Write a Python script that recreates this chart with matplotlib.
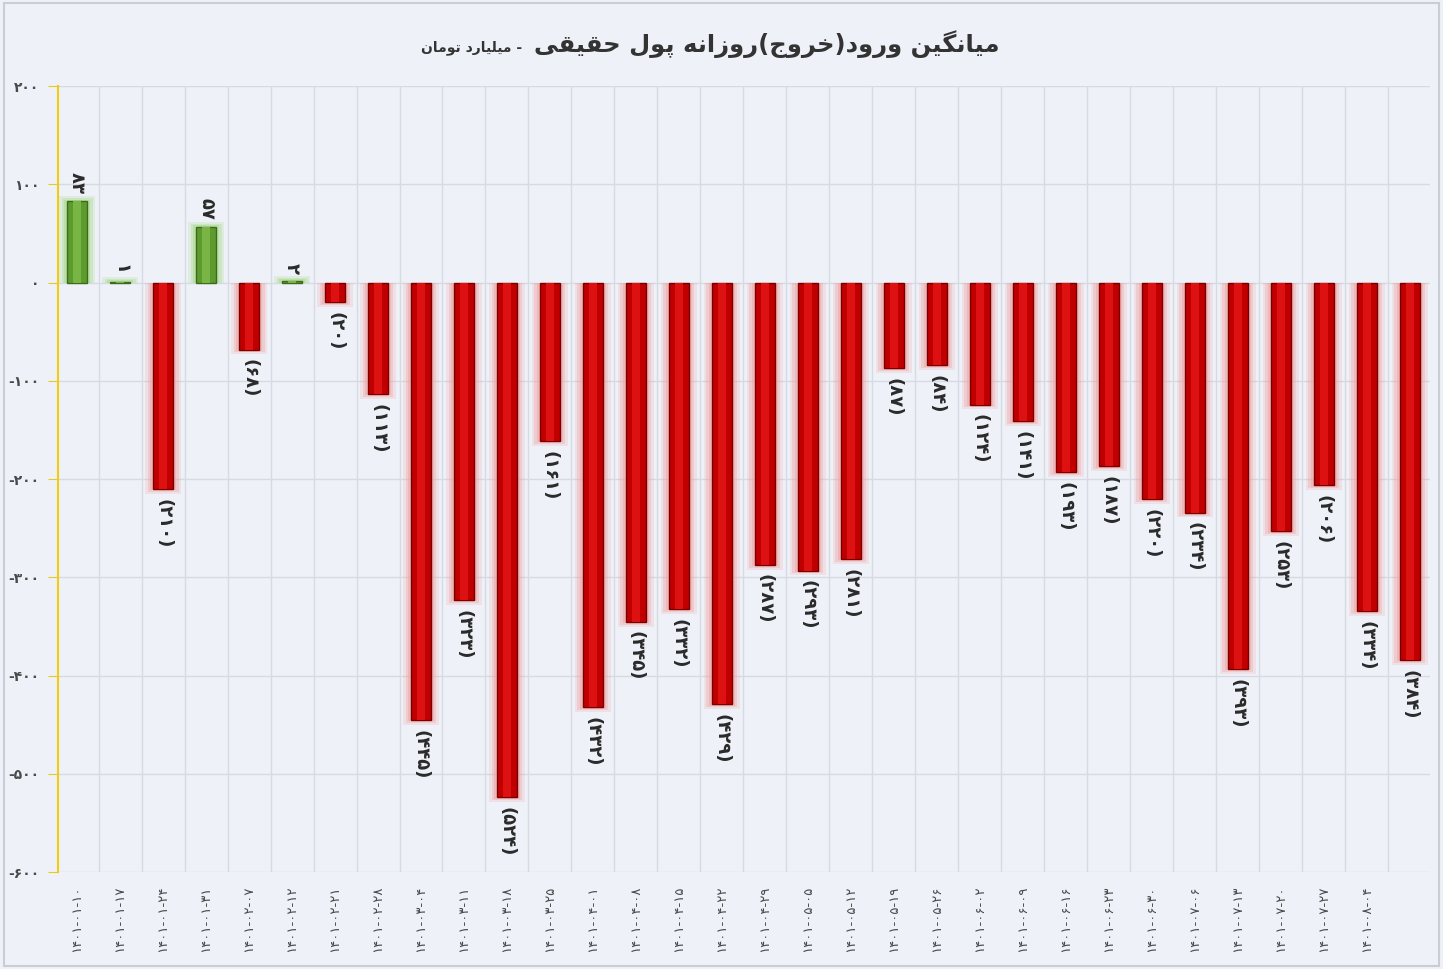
import matplotlib
matplotlib.use("Agg")
import matplotlib.pyplot as plt

# data
dates = ["۱۴۰۱-۰۱-۱۰", "۱۴۰۱-۰۱-۱۷", "۱۴۰۱-۰۱-۲۴", "۱۴۰۱-۰۱-۳۱", "۱۴۰۱-۰۲-۰۷",
         "۱۴۰۱-۰۲-۱۲", "۱۴۰۱-۰۲-۲۱", "۱۴۰۱-۰۲-۲۸", "۱۴۰۱-۰۳-۰۴", "۱۴۰۱-۰۳-۱۱",
         "۱۴۰۱-۰۳-۱۸", "۱۴۰۱-۰۳-۲۵", "۱۴۰۱-۰۴-۰۱", "۱۴۰۱-۰۴-۰۸", "۱۴۰۱-۰۴-۱۵",
         "۱۴۰۱-۰۴-۲۲", "۱۴۰۱-۰۴-۲۹", "۱۴۰۱-۰۵-۰۵", "۱۴۰۱-۰۵-۱۲", "۱۴۰۱-۰۵-۱۹",
         "۱۴۰۱-۰۵-۲۶", "۱۴۰۱-۰۶-۰۲", "۱۴۰۱-۰۶-۰۹", "۱۴۰۱-۰۶-۱۶", "۱۴۰۱-۰۶-۲۳",
         "۱۴۰۱-۰۶-۳۰", "۱۴۰۱-۰۷-۰۶", "۱۴۰۱-۰۷-۱۳", "۱۴۰۱-۰۷-۲۰", "۱۴۰۱-۰۷-۲۷",
         "۱۴۰۱-۰۸-۰۴", ""]
values = [83, 1, -210, 57, -68, 2, -20, -113, -445, -323, -524, -161, -432, -345,
          -332, -429, -287, -293, -281, -87, -84, -124, -141, -193, -187, -220,
          -234, -393, -253, -206, -334, -384]
yticks = [200, 100, 0, -100, -200, -300, -400, -500, -600]

title = "میانگین ورود(خروج)روزانه پول حقیقی"
subtitle = "- میلیارد تومان"

FA_DIGITS = str.maketrans("0123456789", "۰۱۲۳۴۵۶۷۸۹")

# presentation forms: isolated, final, initial, medial
FORMS = {
    "ا": (0xFE8D, 0xFE8E, None, None),
    "د": (0xFEA9, 0xFEAA, None, None),
    "ر": (0xFEAD, 0xFEAE, None, None),
    "ز": (0xFEAF, 0xFEB0, None, None),
    "و": (0xFEED, 0xFEEE, None, None),
    "م": (0xFEE1, 0xFEE2, 0xFEE3, 0xFEE4),
    "ن": (0xFEE5, 0xFEE6, 0xFEE7, 0xFEE8),
    "ی": (0xFBFC, 0xFBFD, 0xFBFE, 0xFBFF),
    "گ": (0xFB92, 0xFB93, 0xFB94, 0xFB95),
    "خ": (0xFEA5, 0xFEA6, 0xFEA7, 0xFEA8),
    "ج": (0xFE9D, 0xFE9E, 0xFE9F, 0xFEA0),
    "ه": (0xFEE9, 0xFEEA, 0xFEEB, 0xFEEC),
    "پ": (0xFB56, 0xFB57, 0xFB58, 0xFB59),
    "ل": (0xFEDD, 0xFEDE, 0xFEDF, 0xFEE0),
    "ح": (0xFEA1, 0xFEA2, 0xFEA3, 0xFEA4),
    "ق": (0xFED5, 0xFED6, 0xFED7, 0xFED8),
    "ت": (0xFE95, 0xFE96, 0xFE97, 0xFE98),
}


def shape(s):
    out = []
    for i, c in enumerate(s):
        if c not in FORMS:
            out.append(c)
            continue
        prev = s[i - 1] if i > 0 else ""
        nxt = s[i + 1] if i + 1 < len(s) else ""
        jp = prev in FORMS and FORMS[prev][2] is not None
        jn = FORMS[c][2] is not None and nxt in FORMS
        iso, fin, ini, med = FORMS[c]
        if jp and jn:
            code = med
        elif jp:
            code = fin
        elif jn:
            code = ini
        else:
            code = iso
        out.append(chr(code))
    return "".join(out)[::-1].translate(str.maketrans("()", ")("))


def fa(n):
    return str(n).translate(FA_DIGITS)


bg = "#eef2f8"
fig = plt.figure(figsize=(14.43, 9.69), dpi=100, facecolor=bg)
ax = fig.add_axes([0.040, 0.100, 0.951, 0.811], facecolor=bg)

x = list(range(len(values)))
colors = ["#5e9b2e" if v >= 0 else "#c00000" for v in values]
glows = ["#a6d98a" if v >= 0 else "#f0a0a0" for v in values]

# soft glow behind the bars (a bit longer than the bar itself)
for w, a, ext in [(0.84, 0.22, 5), (0.72, 0.32, 3), (0.60, 0.45, 1.5)]:
    glow_vals = [v + ext if v >= 0 else v - ext for v in values]
    ax.bar(x, glow_vals, width=w, color=glows, alpha=a, zorder=2, linewidth=0)
ax.bar(x, values, width=0.46, color=colors, edgecolor=["#3d6b1a" if v >= 0 else "#7a0000" for v in values],
       linewidth=1.0, zorder=3)
ax.bar(x, values, width=0.18, color=["#78b545" if v >= 0 else "#dd1111" for v in values],
       linewidth=0, zorder=4)

for i, v in enumerate(values):
    if v >= 0:
        ax.text(i, v + 7, fa(v), rotation=-90, ha="center", va="bottom",
                fontsize=13, fontweight="bold", color="#2a2a2a", zorder=5)
    else:
        ax.text(i, v - 10, "(" + fa(-v) + ")", rotation=-90, ha="center", va="top",
                fontsize=13, fontweight="bold", color="#2a2a2a", zorder=5)

ax.set_xlim(-0.45, len(values) - 0.53)
ax.set_ylim(-600, 200)
ax.set_yticks(yticks)
ax.set_yticklabels([("-" + fa(-t)) if t < 0 else fa(t) for t in yticks],
                   fontsize=10, fontweight="bold", color="#4a4a4a")
ax.set_xticks(x)
ax.set_xticklabels(dates, rotation=90, fontsize=9.5, color="#4a4a4a", va="top")
ax.tick_params(axis="x", length=0, pad=10)
ax.tick_params(axis="y", length=7, color="#e8c820", pad=6)

for t in yticks:
    ax.axhline(t, color="#d5dae3", linewidth=1, zorder=1)
for i in range(len(values)):
    ax.axvline(i + 0.5, color="#d5dae3", linewidth=1, zorder=1)

for s in ["top", "right", "bottom"]:
    ax.spines[s].set_visible(False)
ax.spines["left"].set_color("#f2cc10")
ax.spines["left"].set_linewidth(1.5)

fig.text(0.693, 0.955, shape(title), ha="right", va="center", fontsize=17.5,
         fontweight="bold", color="#333333")
fig.text(0.362, 0.951, shape(subtitle), ha="right", va="center", fontsize=10,
         fontweight="bold", color="#333333")

fig.patches.append(plt.Rectangle((0.003, 0.003), 0.994, 0.994, transform=fig.transFigure,
                                 fill=False, edgecolor="#c9ced6", linewidth=1.5))

fig.savefig("out.png", dpi=100, facecolor=bg)
